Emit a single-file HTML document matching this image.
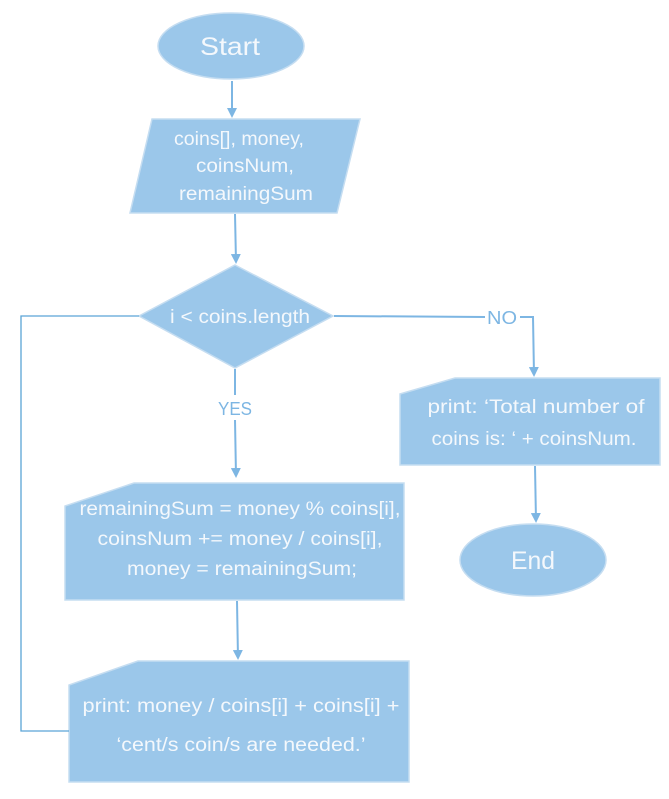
<!DOCTYPE html>
<html><head><meta charset="utf-8"><style>
html,body{margin:0;padding:0;background:#fff;}
svg{display:block;}
text{font-family:"Liberation Sans",sans-serif;fill:#F4F8FC;text-anchor:middle;}
</style></head><body>
<svg width="669" height="799" viewBox="0 0 669 799" xmlns="http://www.w3.org/2000/svg">
<defs>
<marker id="a" markerWidth="10" markerHeight="10" refX="8" refY="5" orient="auto" markerUnits="userSpaceOnUse">
<path d="M0,0 L10,5 L0,10 z" fill="#7DB6E3"/></marker>
</defs>
<g fill="#9BC7EA" stroke="#C5DDF1" stroke-width="1.5">
<ellipse cx="231" cy="46" rx="73" ry="33"/>
<polygon points="152,119 360,119 337,213 130,213"/>
<polygon points="235,265 333,316 235,368 139,316"/>
<polygon points="455,378 660,378 660,465 400,465 400,394"/>
<ellipse cx="533" cy="560" rx="73" ry="36"/>
<polygon points="134,483 404,483 404,600 65,600 65,506"/>
<polygon points="138,661 409,661 409,782 69,782 69,685"/>
</g>
<g stroke="#7DB6E3" stroke-width="2" fill="none">
<line x1="232" y1="81" x2="232" y2="116" marker-end="url(#a)"/>
<line x1="235" y1="214" x2="236" y2="262" marker-end="url(#a)"/>
<line x1="235" y1="369" x2="235" y2="395"/>
<line x1="235" y1="420" x2="236" y2="476" marker-end="url(#a)"/>
<line x1="237" y1="601" x2="238" y2="658" marker-end="url(#a)"/>
<line x1="334" y1="316" x2="485" y2="317"/>
<polyline points="520,317 533,317 534,375" marker-end="url(#a)"/>
<line x1="535" y1="466" x2="536" y2="521" marker-end="url(#a)"/>
</g>
<polyline points="139,316 21,316 21,731 69,731" fill="none" stroke="#5AA5D6" stroke-width="1.3"/>
<text x="230" y="55" font-size="25" textLength="60" lengthAdjust="spacingAndGlyphs">Start</text>
<text x="239" y="145" font-size="19" textLength="130" lengthAdjust="spacingAndGlyphs">coins[], money,</text>
<text x="245" y="172" font-size="19" textLength="98" lengthAdjust="spacingAndGlyphs">coinsNum,</text>
<text x="246" y="200" font-size="19" textLength="134" lengthAdjust="spacingAndGlyphs">remainingSum</text>
<text x="240" y="323" font-size="19" textLength="140" lengthAdjust="spacingAndGlyphs">i &lt; coins.length</text>
<text x="502" y="324" font-size="18" style="fill:#7DB6E3" textLength="30" lengthAdjust="spacingAndGlyphs">NO</text>
<text x="235" y="415" font-size="18" style="fill:#7DB6E3" textLength="34" lengthAdjust="spacingAndGlyphs">YES</text>
<text x="536" y="413" font-size="19" textLength="217" lengthAdjust="spacingAndGlyphs">print: ‘Total number of</text>
<text x="534" y="445" font-size="19" textLength="205" lengthAdjust="spacingAndGlyphs">coins is: ‘ + coinsNum.</text>
<text x="533" y="569" font-size="25" textLength="44" lengthAdjust="spacingAndGlyphs">End</text>
<text x="240" y="515" font-size="19" textLength="321" lengthAdjust="spacingAndGlyphs">remainingSum = money % coins[i],</text>
<text x="240" y="545" font-size="19" textLength="285" lengthAdjust="spacingAndGlyphs">coinsNum += money / coins[i],</text>
<text x="242" y="575" font-size="19" textLength="230" lengthAdjust="spacingAndGlyphs">money = remainingSum;</text>
<text x="241" y="712" font-size="19" textLength="317" lengthAdjust="spacingAndGlyphs">print: money / coins[i] + coins[i] +</text>
<text x="241" y="751" font-size="19" textLength="249" lengthAdjust="spacingAndGlyphs">‘cent/s coin/s are needed.’</text>
</svg>
</body></html>
